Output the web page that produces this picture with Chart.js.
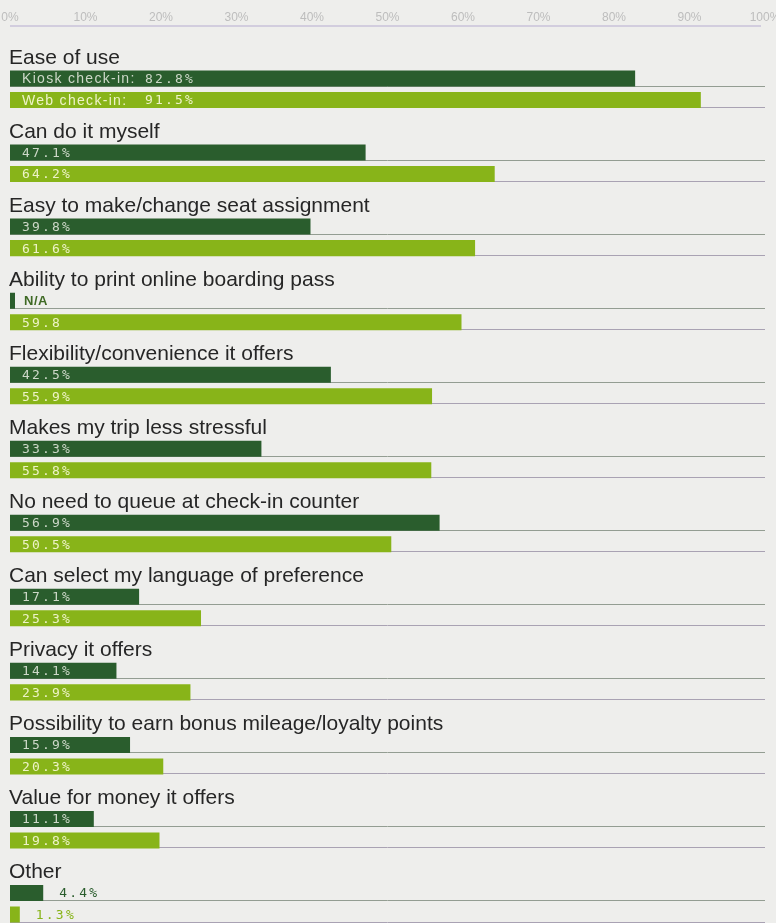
<!DOCTYPE html>
<html>
<head>
<meta charset="utf-8">
<script src="https://cdn.jsdelivr.net/npm/chart.js@4/dist/chart.umd.min.js"></script>
<style>
  html, body { margin: 0; padding: 0; background: #eeeeec; overflow: hidden; }
  #wrap { width: 776px; height: 923px; overflow: hidden; }
  canvas { display: block; }
</style>
</head>
<body>
<div id="wrap"><canvas id="c" width="776" height="930" style="width:776px;height:930px"></canvas></div>
<script>
// ---- data ----
const categories = [
  "Ease of use",
  "Can do it myself",
  "Easy to make/change seat assignment",
  "Ability to print online boarding pass",
  "Flexibility/convenience it offers",
  "Makes my trip less stressful",
  "No need to queue at check-in counter",
  "Can select my language of preference",
  "Privacy it offers",
  "Possibility to earn bonus mileage/loyalty points",
  "Value for money it offers",
  "Other"
];
const seriesNames = ["Kiosk check-in:", "Web check-in:"];
// N/A shown as a zero-length stub
const kioskValues = [82.8, 47.1, 39.8, 0, 42.5, 33.3, 56.9, 17.1, 14.1, 15.9, 11.1, 4.4];
const webValues   = [91.5, 64.2, 61.6, 59.8, 55.9, 55.8, 50.5, 25.3, 23.9, 20.3, 19.8, 1.3];
const kioskLabels = ["82.8%", "47.1%", "39.8%", "N/A", "42.5%", "33.3%", "56.9%", "17.1%", "14.1%", "15.9%", "11.1%", "4.4%"];
const webLabels   = ["91.5%", "64.2%", "61.6%", "59.8", "55.9%", "55.8%", "50.5%", "25.3%", "23.9%", "20.3%", "19.8%", "1.3%"];
const tickValues  = [0, 10, 20, 30, 40, 50, 60, 70, 80, 90, 100];

// ---- styles ----
const KIOSK = "#2a5d2d";
const WEB = "#88b419";
const MONO = '"DejaVu Sans Mono", monospace';
const SANS = '"Liberation Sans", Arial, sans-serif';

const decor = {
  id: "decor",
  beforeDatasetsDraw(chart) {
    const ctx = chart.ctx, ca = chart.chartArea, x = chart.scales.x;
    ctx.save();
    // top axis rule
    ctx.strokeStyle = "#c9c2da";
    ctx.lineWidth = 1.5;
    ctx.beginPath();
    ctx.moveTo(x.getPixelForValue(0), ca.top - 15.5);
    ctx.lineTo(ca.right - 4, ca.top - 15.5);
    ctx.stroke();
    // rules under each bar
    [[1, "#939d92"], [2, "#a9a2b3"]].forEach(([d, col]) => {
      chart.getDatasetMeta(d).data.forEach(el => {
        const y = Math.round(el.y + el.height / 2) - 0.5;
        ctx.strokeStyle = col;
        ctx.lineWidth = 1;
        ctx.beginPath();
        ctx.moveTo(ca.left, y);
        ctx.lineTo(ca.right, y);
        ctx.stroke();
      });
    });
    ctx.restore();
  },
  afterDatasetsDraw(chart) {
    const ctx = chart.ctx;
    const km = chart.getDatasetMeta(1), wm = chart.getDatasetMeta(2);
    ctx.save();
    // category titles
    ctx.font = "21px " + SANS;
    ctx.fillStyle = "#262626";
    ctx.textBaseline = "alphabetic";
    ctx.textAlign = "left";
    categories.forEach((c, i) => {
      ctx.fillText(c, 9, km.data[i].y - 15);
    });
    // value labels
    const sets = [
      [km, kioskLabels, "#cdd8c8", KIOSK, 0],
      [wm, webLabels, "#eef3c8", WEB, 1]
    ];
    sets.forEach(([meta, labels, inCol, outCol, s]) => {
      meta.data.forEach((el, i) => {
        const txt = labels[i];
        const y = el.y + 1;
        ctx.textBaseline = "middle";
        if (txt === "N/A") {
          ctx.letterSpacing = "0.5px";
          ctx.font = "bold 13px " + SANS;
          ctx.fillStyle = "#3f6a25";
          ctx.fillText(txt, el.x + 9, y);
          return;
        }
        if (i === 0) {
          ctx.letterSpacing = "1.3px";
          ctx.font = "14px " + SANS;
          ctx.fillStyle = inCol;
          ctx.fillText(seriesNames[s], el.base + 12, y);
          ctx.letterSpacing = "2.2px";
          ctx.font = "13px " + MONO;
          ctx.fillText(txt, el.base + 135, y);
          return;
        }
        ctx.letterSpacing = "2.2px";
        ctx.font = "13px " + MONO;
        const w = ctx.measureText(txt).width;
        if (w + 20 < el.x - el.base) {
          ctx.fillStyle = inCol;
          ctx.fillText(txt, el.base + 12, y);
        } else {
          ctx.fillStyle = outCol;
          ctx.fillText(txt, el.x + 16, y);
        }
      });
    });
    ctx.restore();
  }
};

const common = { categoryPercentage: 0.872, barPercentage: 0.744, borderWidth: 0 };

new Chart(document.getElementById("c"), {
  type: "bar",
  data: {
    labels: categories,
    datasets: [
      Object.assign({ label: "title", data: categories.map(() => null), backgroundColor: "rgba(0,0,0,0)" }, common),
      Object.assign({ label: seriesNames[0], data: kioskValues, backgroundColor: KIOSK, minBarLength: 5 }, common),
      Object.assign({ label: seriesNames[1], data: webValues, backgroundColor: WEB }, common)
    ]
  },
  options: {
    indexAxis: "y",
    responsive: false,
    animation: false,
    devicePixelRatio: 1,
    layout: { padding: { left: 10, right: 11, top: 0, bottom: 0 } },
    scales: {
      x: {
        position: "top",
        min: 0,
        max: 100,
        afterBuildTicks(s) { s.ticks = tickValues.map(v => ({ value: v })); },
        afterFit(s) { s.height = 41.5; s.paddingLeft = 0; s.paddingRight = 0; },
        ticks: {
          callback: v => v + "%",
          color: "#bdbdbd",
          font: { family: SANS, size: 12 },
          padding: 17,
          maxRotation: 0
        },
        grid: { display: false, drawTicks: false },
        border: { display: false }
      },
      y: { display: false }
    },
    plugins: { legend: { display: false }, tooltip: { enabled: false } }
  },
  plugins: [decor]
});
</script>
</body>
</html>
